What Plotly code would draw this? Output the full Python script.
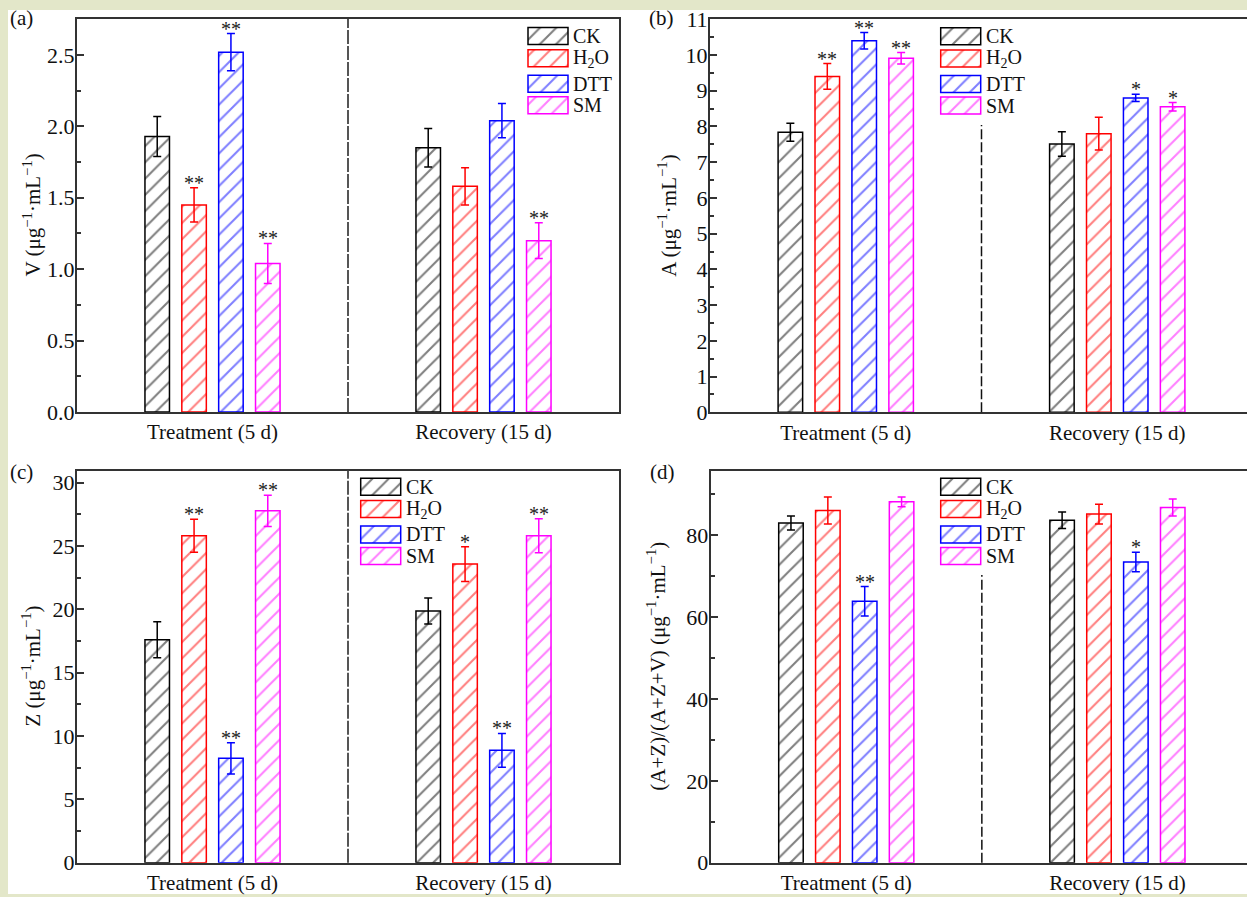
import plotly.graph_objects as go

W, H = 1247, 897
FONT = "Liberation Serif"

groups = ["Treatment (5 d)", "Recovery (15 d)"]
series = ["CK", "H2O", "DTT", "SM"]
series_labels = ["CK", "H<sub>2</sub>O", "DTT", "SM"]
colors = ["#000000", "#ff0000", "#0000ff", "#ff00ff"]

# rows follow `series` (CK, H2O, DTT, SM); columns follow `groups`
V_values = [[1.93, 1.85], [1.45, 1.58], [2.52, 2.04], [1.04, 1.20]]
V_errors = [[0.14, 0.135], [0.12, 0.13], [0.13, 0.12], [0.14, 0.125]]
V_marks = [["", ""], ["**", ""], ["**", ""], ["**", "**"]]

A_values = [[7.84, 7.51], [9.40, 7.80], [10.40, 8.80], [9.91, 8.55]]
A_errors = [[0.25, 0.34], [0.36, 0.46], [0.23, 0.10], [0.16, 0.12]]
A_marks = [["", ""], ["**", ""], ["**", "*"], ["**", "*"]]

Z_values = [[17.60, 19.87], [25.81, 23.58], [8.24, 8.87], [27.78, 25.81]]
Z_errors = [[1.42, 1.02], [1.30, 1.37], [1.23, 1.34], [1.24, 1.34]]
Z_marks = [["", ""], ["**", "*"], ["**", "**"], ["**", "**"]]

R_values = [[83.0, 83.7], [86.1, 85.2], [63.9, 73.5], [88.2, 86.8]]
R_errors = [[1.7, 2.0], [3.3, 2.4], [3.6, 2.4], [1.2, 2.1]]
R_marks = [["", ""], ["", ""], ["**", "*"], ["", ""]]

BARGAP = 0.456
BARGROUPGAP = 0.335
HATCH = dict(shape="/", size=11.5, solidity=0.18, bgcolor="white")


def fx(p):
    return p / W


def fy(p):
    return 1 - p / H


def ax_id(letter, n):
    return letter if n == 1 else f"{letter}{n}"


UNIT = "(μg<sup>−1</sup>·mL<sup>−1</sup>)"
right_xmax = 1.5 - 6 / 271.5

panels = [
    dict(label="(a)", vals=V_values, errs=V_errors, marks=V_marks, title="V " + UNIT,
         box=(77, 619, 19, 412), xr=[-0.5, 1.5], yr=[0, 2.752], dtick=0.5, minor=0.25,
         fmt=".1f", mirror_y=True,
         divider=dict(frac=1.0, color="#555555", width=2, dash="14px,2px"),
         legend=(528, 36), label_pos=(8, 18), title_x=32),
    dict(label="(b)", vals=A_values, errs=A_errors, marks=A_marks, title="A " + UNIT,
         box=(710, 1247, 19.3, 412.3), xr=[-0.5, right_xmax], yr=[0, 11], dtick=1, minor=0.5,
         fmt="", mirror_y=False,
         divider=dict(frac=0.731, color="#111111", width=1.5, dash="10px,3px"),
         legend=(940.7, 36.3), label_pos=(647, 18), title_x=668),
    dict(label="(c)", vals=Z_values, errs=Z_errors, marks=Z_marks, title="Z " + UNIT,
         box=(77, 619, 470.7, 862.7), xr=[-0.5, 1.5], yr=[0, 30.95], dtick=5, minor=2.5,
         fmt="", mirror_y=True,
         divider=dict(frac=1.0, color="#555555", width=2, dash="14px,2px"),
         legend=(360.7, 486.7), label_pos=(8, 472), title_x=32),
    dict(label="(d)", vals=R_values, errs=R_errors, marks=R_marks,
         title="(A+Z)/(A+Z+V) " + UNIT,
         box=(710.7, 1247, 470.7, 862.7), xr=[-0.5, right_xmax], yr=[0, 95.8], dtick=20,
         minor=10, fmt="", mirror_y=False,
         divider=dict(frac=0.734, color="#111111", width=1.5, dash="10px,3px"),
         legend=(940.7, 486.7), label_pos=(648, 472), title_x=657),
]

LEG_ROWS = [0, 22.3, 47.7, 69.3]   # row centres below the first swatch, px
SW_W, SW_H = 40, 17
TXT = "#111111"

fig = go.Figure()
annotations = []
shapes = [dict(type="rect", xref="paper", yref="paper", x0=fx(8), x1=1.0,
               y0=fy(894), y1=fy(10), fillcolor="white", line=dict(width=0), layer="below")]
layout_axes = {}
slot = (1 - BARGAP) / len(series)

for p_i, p in enumerate(panels):
    n = p_i + 1
    xa, ya = ax_id("x", n), ax_id("y", n)
    left, right, top, bottom = p["box"]
    for s_i, name in enumerate(series):
        c = colors[s_i]
        fig.add_trace(go.Bar(
            x=groups, y=p["vals"][s_i], name=name, xaxis=xa, yaxis=ya, showlegend=False,
            marker=dict(color="white", line=dict(color=c, width=1.5),
                        pattern=dict(fgcolor=c, **HATCH)),
            error_y=dict(type="data", array=p["errs"][s_i], color=c, thickness=1.5, width=4),
        ))
        for g_i in range(len(groups)):
            txt = p["marks"][s_i][g_i]
            if txt:
                annotations.append(dict(
                    xref=xa, yref=ya, x=g_i + (s_i - 1.5) * slot,
                    y=p["vals"][s_i][g_i] + p["errs"][s_i][g_i],
                    text=txt, showarrow=False, yanchor="bottom", yshift=-8,
                    font=dict(family=FONT, size=20, color="#222222")))

    axis_line = dict(showline=True, linecolor="#333333", linewidth=2, showgrid=False,
                     zeroline=False, automargin=False)
    layout_axes[f"xaxis{n}"] = dict(
        domain=[fx(left), fx(right)], anchor=ya, range=p["xr"], type="category",
        mirror=True, ticks="", tickfont=dict(family=FONT, size=21, color=TXT),
        fixedrange=True, **axis_line)
    layout_axes[f"yaxis{n}"] = dict(
        domain=[fy(bottom), fy(top)], anchor=xa, range=p["yr"], dtick=p["dtick"], tick0=0,
        tickformat=p["fmt"], mirror=p["mirror_y"], ticks="inside", ticklen=7, tickwidth=1.5,
        tickcolor="#333333", minor=dict(ticks="inside", ticklen=4, dtick=p["minor"],
                                        tickcolor="#333333", tickwidth=1.5),
        ticklabelstandoff=-4,
        tickfont=dict(family=FONT, size=22, color=TXT), fixedrange=True, **axis_line)

    d = p["divider"]
    shapes.append(dict(type="line", xref=xa, yref=f"{ya} domain", x0=0.5, x1=0.5,
                       y0=0, y1=d["frac"], line=dict(color=d["color"], width=d["width"],
                                                     dash=d["dash"])))

    # y-axis title
    annotations.append(dict(xref="paper", yref="paper", x=fx(p["title_x"]),
                            y=fy((top + bottom) / 2), text=p["title"], textangle=-90,
                            showarrow=False, xanchor="center", yanchor="middle",
                            font=dict(family=FONT, size=21, color=TXT)))
    # panel letter
    lx, ly = p["label_pos"]
    annotations.append(dict(xref="paper", yref="paper", x=fx(lx), y=fy(ly), text=p["label"],
                            showarrow=False, xanchor="left", yanchor="middle",
                            font=dict(family=FONT, size=21, color=TXT)))

    # hatched swatches of the key, drawn on a small inset axis pair
    kx, ky = p["legend"]
    ln = n + 4
    span = LEG_ROWS[-1] + SW_H
    pad = 2
    layout_axes[f"xaxis{ln}"] = dict(
        domain=[fx(kx - pad), fx(kx + SW_W + pad)], anchor=f"y{ln}",
        range=[-pad / SW_W, 1 + pad / SW_W], visible=False, fixedrange=True,
        automargin=False)
    layout_axes[f"yaxis{ln}"] = dict(
        domain=[fy(ky - SW_H / 2 + span + pad), fy(ky - SW_H / 2 - pad)], anchor=f"x{ln}",
        range=[span + pad, -pad], visible=False, fixedrange=True, automargin=False)
    for s_i, name in enumerate(series):
        c = colors[s_i]
        fig.add_trace(go.Bar(
            x=[1], y=[SW_H / 2 + LEG_ROWS[s_i]], orientation="h", width=SW_H,
            offset=-SW_H / 2, xaxis=f"x{ln}", yaxis=f"y{ln}", showlegend=False,
            hoverinfo="skip", name=name,
            marker=dict(color="white", line=dict(color=c, width=1.5),
                        pattern=dict(fgcolor=c, **HATCH))))
        annotations.append(dict(xref="paper", yref="paper", x=fx(kx + SW_W + 3),
                                y=fy(ky + LEG_ROWS[s_i]), text=series_labels[s_i],
                                showarrow=False, xanchor="left", yanchor="middle",
                                font=dict(family=FONT, size=20, color=TXT)))

fig.update_layout(
    width=W, height=H, margin=dict(l=0, r=0, t=0, b=0, autoexpand=False),
    paper_bgcolor="#e3e7c9", plot_bgcolor="white",
    barmode="group", bargap=BARGAP, bargroupgap=BARGROUPGAP,
    showlegend=False, annotations=annotations, shapes=shapes,
    font=dict(family=FONT, size=20, color=TXT),
    **layout_axes,
)

fig.write_html("out.html")
